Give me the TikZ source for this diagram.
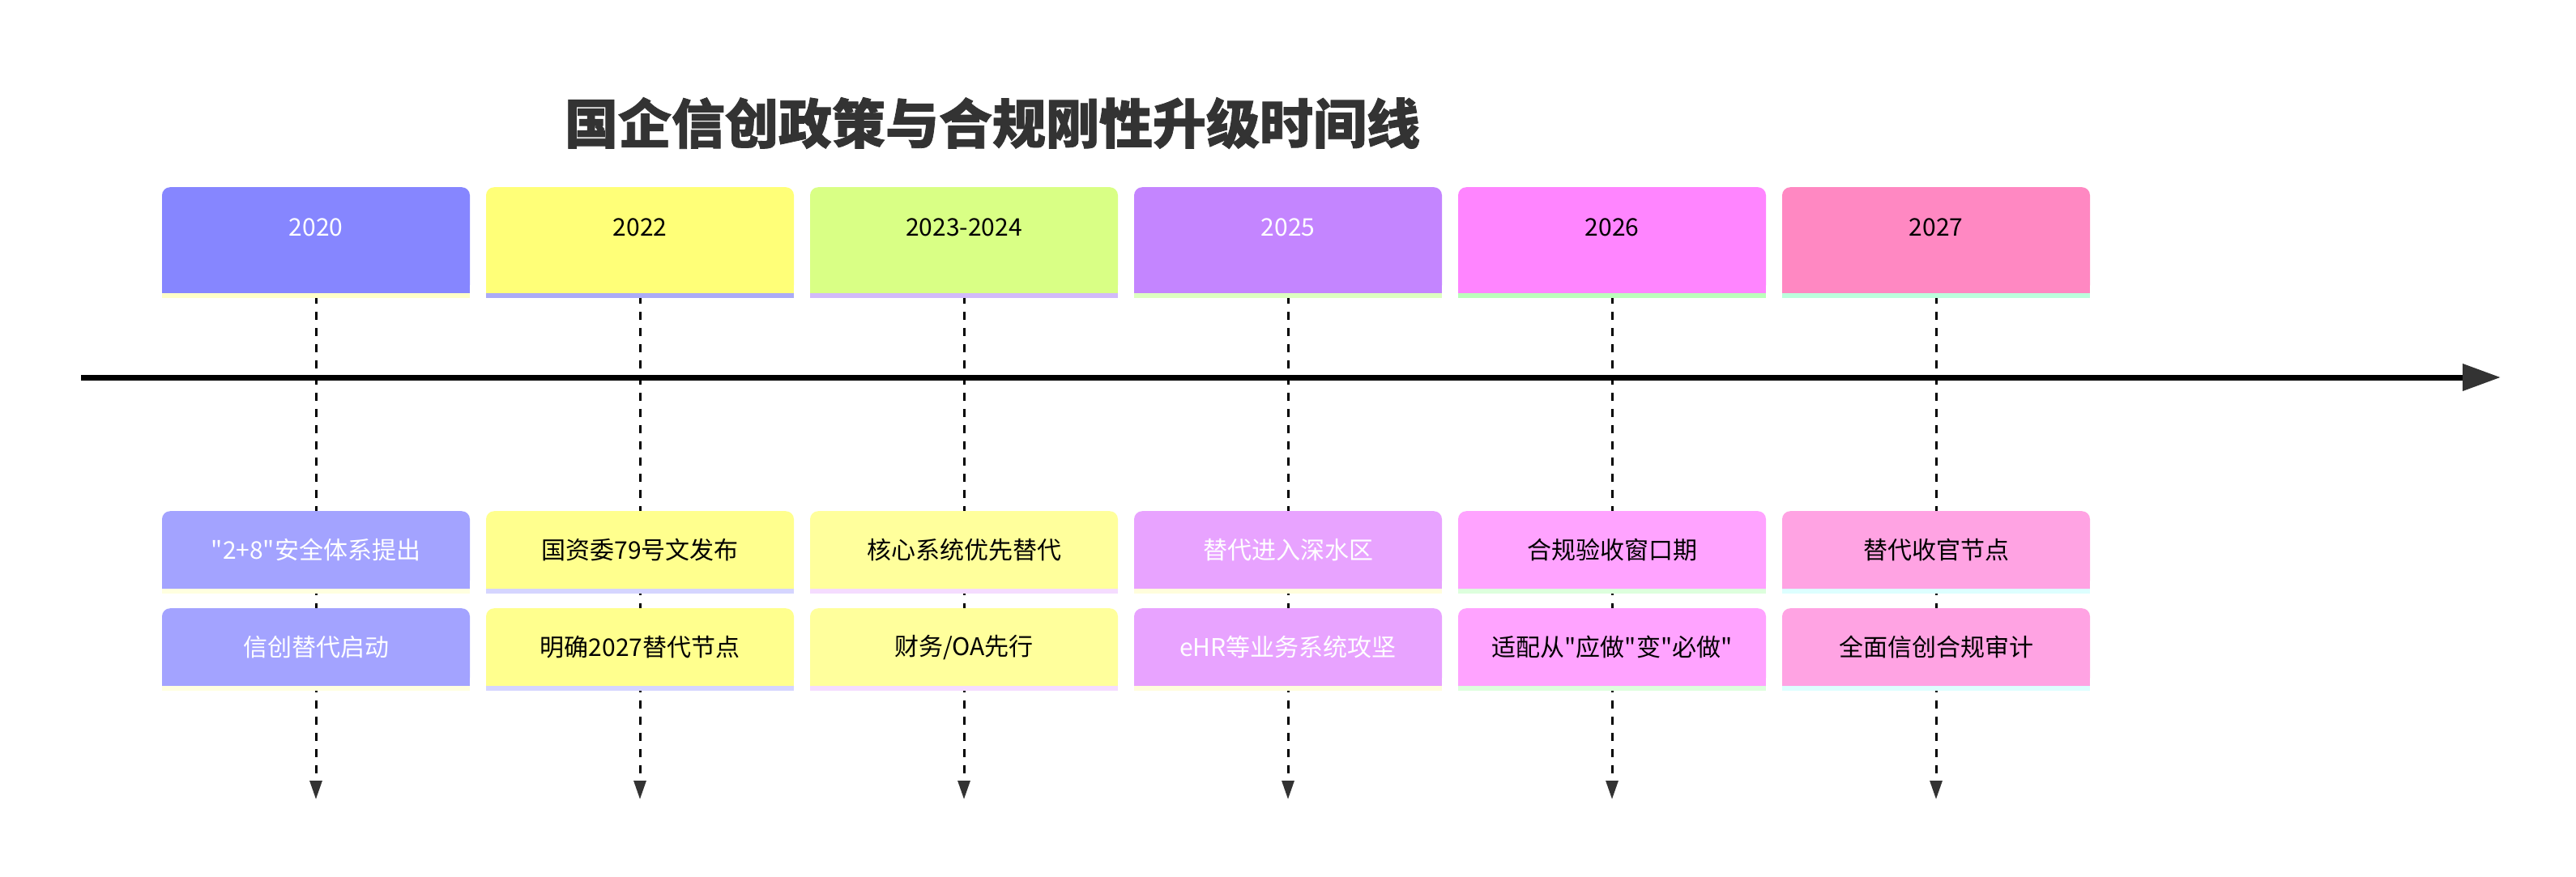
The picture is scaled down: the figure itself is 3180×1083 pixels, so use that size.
\documentclass[tikz,border=0pt]{standalone}
\usepackage{fontspec}
\newfontfamily\cjk{Noto Sans CJK SC}
\newfontfamily\cjkt{Noto Sans CJK SC}[BoldFeatures={FakeBold=1.2}]
\usetikzlibrary{arrows.meta}
\pgfdeclarelayer{back}
\pgfdeclarelayer{bg}
\pgfsetlayers{back,bg,main}
\definecolor{ink}{HTML}{333333}
\definecolor{yc1}{HTML}{8686FF}\definecolor{ys1}{HTML}{FFFFC8}\definecolor{ec1}{HTML}{A3A3FF}\definecolor{es1}{HTML}{FFFFE0}
\definecolor{yc2}{HTML}{FFFF78}\definecolor{ys2}{HTML}{ABABF6}\definecolor{ec2}{HTML}{FFFF8E}\definecolor{es2}{HTML}{D5D5FF}
\definecolor{yc3}{HTML}{D9FF85}\definecolor{ys3}{HTML}{D2BAFA}\definecolor{ec3}{HTML}{FFFF9C}\definecolor{es3}{HTML}{F5DCFF}
\definecolor{yc4}{HTML}{C485FF}\definecolor{ys4}{HTML}{DDFFC0}\definecolor{ec4}{HTML}{E8A3FF}\definecolor{es4}{HTML}{FFFDDC}
\definecolor{yc5}{HTML}{FF85FF}\definecolor{ys5}{HTML}{BBFFBB}\definecolor{ec5}{HTML}{FFA3FF}\definecolor{es5}{HTML}{DDFFDD}
\definecolor{yc6}{HTML}{FF88C2}\definecolor{ys6}{HTML}{BBFFDD}\definecolor{ec6}{HTML}{FFA3E3}\definecolor{es6}{HTML}{DDFFFF}
\tikzset{
  ybox/.style={rounded corners=10pt, minimum width=380pt, minimum height=131pt, inner sep=0pt, anchor=north},
  ebox/.style={rounded corners=10pt, minimum width=380pt, minimum height=96pt, inner sep=0pt, anchor=north,
               font=\cjk\fontsize{30pt}{36pt}\selectfont},
  ytxt/.style={inner sep=0pt, font=\cjk\fontsize{30pt}{36pt}\selectfont},
  dline/.style={black, line width=3pt, dash pattern=on 10pt off 10pt, dash phase=17pt,
                -{Triangle[length=23pt,width=15pt,color=ink]}},
  axisline/.style={black, line width=7pt, -{Triangle[length=47pt,width=32pt,color=ink]}},
  titletxt/.style={inner sep=0pt, text=ink, font=\cjkt\fontsize{66pt}{72pt}\selectfont\bfseries}
}
\newcommand\tlsquare[3]{%
  \fill[#2] ([yshift=24pt]#1.south west) rectangle (#1.south east);
  \fill[#3] (#1.south west) rectangle ([yshift=-6pt]#1.south east);}
\newcommand\tlp[6]{%
  \node[ybox, fill=yc#1] (y#1) at ({400*#1-10},231) {};
  \tlsquare{y#1}{yc#1}{ys#1}
  \node[ytxt, text=#3] (y#1t) at ([yshift=16pt]y#1.center) {#2};
  \node[ebox, fill=ec#1, text=#4] (a#1) at ({400*#1-10},631) {#5};
  \tlsquare{a#1}{ec#1}{es#1}
  \node[ebox, fill=ec#1, text=#4] (b#1) at ({400*#1-10},751) {#6};
  \tlsquare{b#1}{ec#1}{es#1}
  \coordinate (z#1) at ({400*#1-10},987);
  \begin{pgfonlayer}{bg}
    \draw[dline] (y#1.south) -- (z#1);
  \end{pgfonlayer}}
\begin{document}
\begin{tikzpicture}[x=1pt,y=-1pt]
  \begin{pgfonlayer}{back}
    \fill[white] (0,0) rectangle (3180,1083);
  \end{pgfonlayer}
  \useasboundingbox (0,0) rectangle (3180,1083);
  \node[titletxt] (title) at (1225,152) {国企信创政策与合规刚性升级时间线};
  \coordinate (axs) at (100,466);
  \coordinate (axe) at (3087,466);
  \draw[axisline] (axs) -- (axe);
  \tlp{1}{2020}{white}{white}{"2+8"安全体系提出}{信创替代启动}
  \tlp{2}{2022}{black}{black}{国资委79号文发布}{明确2027替代节点}
  \tlp{3}{2023-2024}{black}{black}{核心系统优先替代}{财务/OA先行}
  \tlp{4}{2025}{white}{white}{替代进入深水区}{eHR等业务系统攻坚}
  \tlp{5}{2026}{black}{black}{合规验收窗口期}{适配从"应做"变"必做"}
  \tlp{6}{2027}{black}{black}{替代收官节点}{全面信创合规审计}
\end{tikzpicture}
\end{document}
